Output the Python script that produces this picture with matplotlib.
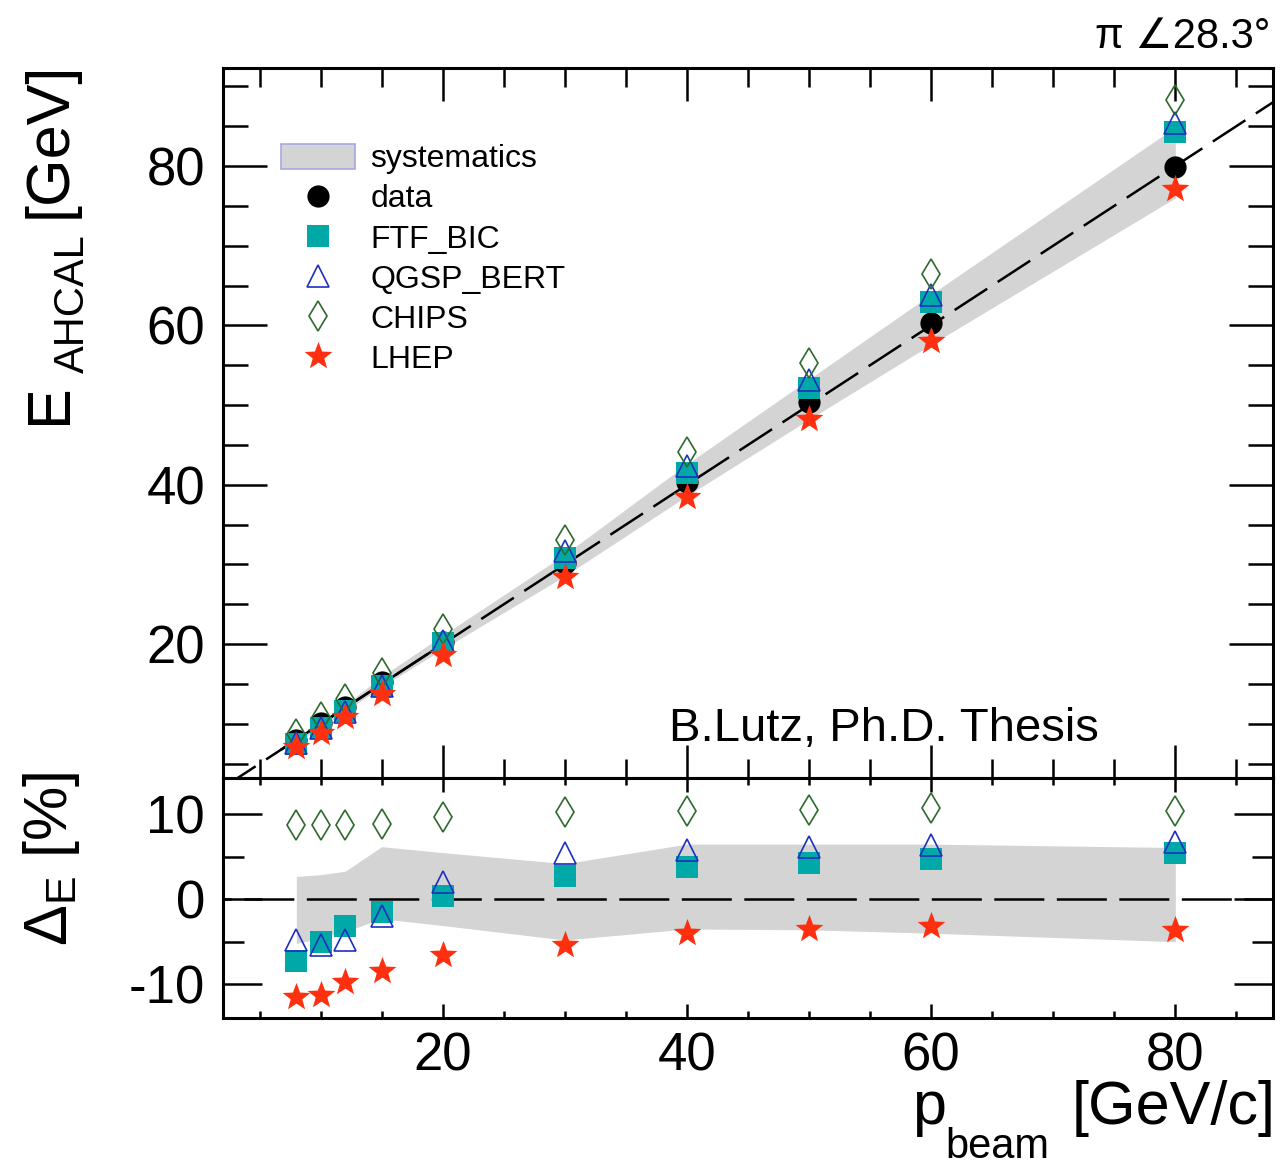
"""
Energy response of the AHCAL to pions (pi, 28.3 deg) compared with
several Geant4 physics lists; lower pad shows the relative deviation.
"""

import matplotlib.pyplot as plt
from matplotlib.patches import Patch
from matplotlib.lines import Line2D
from matplotlib.path import Path
from matplotlib.ticker import MultipleLocator

plt.rcParams['font.family'] = ['Liberation Sans', 'DejaVu Sans']
plt.rcParams['mathtext.fontset'] = 'custom'
plt.rcParams['mathtext.rm'] = 'Liberation Sans'
plt.rcParams['mathtext.it'] = 'Liberation Sans:italic'
plt.rcParams['axes.unicode_minus'] = False
plt.rcParams['lines.scale_dashes'] = False

# beam momenta [GeV/c]
p_beam = [8, 10, 12, 15, 20, 30, 40, 50, 60, 80]

# upper pad: reconstructed energy [GeV]
e_data = [8.0, 10.1, 12.1, 15.2, 20.2, 30.2, 40.4, 50.4, 60.3, 79.9]
e_ftf = [7.42, 9.50, 11.63, 14.78, 20.08, 30.84, 41.52, 52.15, 62.88, 84.32]
e_qgsp = [7.62, 9.46, 11.42, 14.70, 20.40, 31.62, 42.32, 53.10, 63.84, 85.36]
e_chips = [8.70, 10.88, 13.06, 16.34, 21.94, 33.09, 44.16, 55.25, 66.42, 88.32]
e_lhep = [7.08, 8.87, 10.82, 13.73, 18.68, 28.38, 38.40, 48.25, 58.08, 77.12]
e_sys_lo = [7.58, 9.54, 11.54, 14.66, 19.38, 28.56, 38.60, 48.20, 57.60, 76.00]
e_sys_hi = [8.22, 10.29, 12.40, 15.93, 21.10, 31.26, 42.60, 53.25, 63.90, 84.88]

# lower pad: deviation from beam energy [%]
d_ftf = [-7.3, -5.0, -3.1, -1.5, 0.4, 2.8, 3.8, 4.3, 4.8, 5.4]
d_qgsp = [-4.8, -5.4, -4.8, -2.0, 2.0, 5.4, 5.8, 6.2, 6.4, 6.7]
d_chips = [8.7, 8.8, 8.8, 8.9, 9.7, 10.3, 10.4, 10.5, 10.7, 10.4]
d_lhep = [-11.5, -11.3, -9.8, -8.5, -6.6, -5.4, -4.0, -3.5, -3.2, -3.6]
d_sys_lo = [-5.2, -4.6, -3.8, -2.3, -3.1, -4.8, -3.5, -3.6, -4.0, -5.0]
d_sys_hi = [2.7, 2.9, 3.3, 6.2, 5.5, 4.2, 6.5, 6.5, 6.5, 6.1]

fit_range = [6.8, 20]

# styles
C_BAND = '#d4d4d4'
C_FTF = '#00a8a8'
C_QGSP = '#1f2fc0'
C_CHIPS = '#2d6a2d'
C_LHEP = '#ff3010'
STAR = Path.unit_regular_star(5, innerCircle=0.42)

STYLES = [
    ('data', dict(marker='o', ms=16, mfc='black', mec='black', mew=0)),
    ('FTF_BIC', dict(marker='s', ms=15.5, mfc=C_FTF, mec=C_FTF, mew=0)),
    ('QGSP_BERT', dict(marker='^', ms=16, mfc='none', mec=C_QGSP, mew=1.2)),
    ('CHIPS', dict(marker='d', ms=15, mfc='none', mec=C_CHIPS, mew=1.2)),
    ('LHEP', dict(marker=STAR, ms=21, mfc=C_LHEP, mec=C_LHEP, mew=0)),
]


def style_axis(ax, xlen, ylen):
    for s in ax.spines.values():
        s.set_linewidth(2.2)
    ax.tick_params(which='both', direction='in', top=True, right=True,
                   width=1.8, labelsize=38)
    ax.tick_params(axis='x', which='major', length=xlen[0], pad=10)
    ax.tick_params(axis='x', which='minor', length=xlen[1])
    ax.tick_params(axis='y', which='major', length=ylen[0], pad=13)
    ax.tick_params(axis='y', which='minor', length=ylen[1])
    ax.xaxis.set_major_locator(MultipleLocator(20))
    ax.xaxis.set_minor_locator(MultipleLocator(5))


W, H = 1282, 1166
fig = plt.figure(figsize=(W / 100, H / 100), dpi=100)
ax1 = fig.add_axes([0.174, 0.3328, 0.819, 0.6089])
ax2 = fig.add_axes([0.174, 0.1269, 0.819, 0.2059])

xlim = (2, 88)

# ---- upper pad ----
ax1.fill_between(p_beam, e_sys_lo, e_sys_hi, color=C_BAND, lw=0, zorder=1)
ax1.plot(xlim, xlim, color='black', lw=1.8, dashes=(28, 9), zorder=2)
ax1.plot(fit_range, fit_range, color='black', lw=1.8, zorder=2)
for (name, st), ys in zip(STYLES, [e_data, e_ftf, e_qgsp, e_chips, e_lhep]):
    ax1.plot(p_beam, ys, ls='none', zorder=3, **st)

ax1.set_xlim(*xlim)
ax1.set_ylim(3.2, 92.3)
ax1.yaxis.set_major_locator(MultipleLocator(20))
ax1.yaxis.set_minor_locator(MultipleLocator(5))
style_axis(ax1, (24, 14), (32, 18))
ax1.tick_params(axis='x', labelbottom=False)

handles = [Patch(facecolor=C_BAND, edgecolor='#a8a8e0', lw=1.2)]
for name, st in STYLES:
    handles.append(Line2D([], [], ls='none', **st))
labels = ['systematics'] + [n for n, _ in STYLES]
ax1.legend(handles, labels, loc='upper left', bbox_to_anchor=(0.040, 0.916),
           frameon=False, fontsize=23, handlelength=2.3, handleheight=0.85,
           handletextpad=0.5, labelspacing=0.29, borderpad=0)

ax1.text(0.834, 0.052, 'B.Lutz, Ph.D. Thesis', transform=ax1.transAxes,
         fontsize=34, ha='right', va='baseline')

# ---- lower pad ----
ax2.fill_between(p_beam, d_sys_lo, d_sys_hi, color=C_BAND, lw=0, zorder=1)
ax2.axhline(0, color='black', lw=1.8, ls=(30, (36, 9)), zorder=2)
for (name, st), ys in zip(STYLES[1:], [d_ftf, d_qgsp, d_chips, d_lhep]):
    ax2.plot(p_beam, ys, ls='none', zorder=3, **st)

ax2.set_xlim(*xlim)
ax2.set_ylim(-14, 14.3)
ax2.yaxis.set_major_locator(MultipleLocator(10))
ax2.yaxis.set_minor_locator(MultipleLocator(5))
style_axis(ax2, (10, 5), (28, 15))


# ---- titles (ROOT-style, subscripts dropped low) ----
def ftext(x, y, s, **kw):
    fig.text(x / W, 1 - y / H, s, **kw)


rot = dict(rotation=90, rotation_mode='anchor', ha='left', va='baseline')
ftext(66, 424, 'E', fontsize=44, **rot)
ftext(84, 373, 'AHCAL', fontsize=30, **rot)
ftext(66, 218, '[GeV]', fontsize=44, **rot)
fig.text(0.040, 1 - 772 / H, r'$\mathregular{\Delta_{E}}$ [%]',
         rotation=90, ha='center', va='top', fontsize=44)

ftext(912, 1124, 'p', fontsize=44, ha='left', va='baseline')
ftext(945, 1158, 'beam', fontsize=30, ha='left', va='baseline')
ftext(1276, 1124, '[GeV/c]', fontsize=44, ha='right', va='baseline')

ftext(1270, 48, 'π ∠28.3°', fontsize=30, ha='right', va='baseline')

fig.savefig('out.png', dpi=100, facecolor='white')
